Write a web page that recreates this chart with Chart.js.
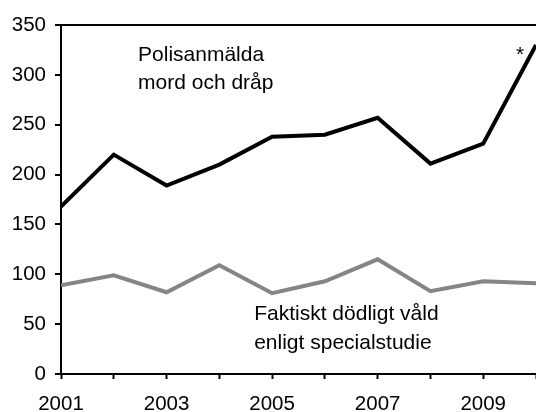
<!DOCTYPE html>
<html>
<head>
<meta charset="utf-8">
<script src="https://cdn.jsdelivr.net/npm/chart.js@4"></script>
<style>
  html, body { margin: 0; padding: 0; background: #fff; }
  #wrap { width: 536px; height: 412px; }
</style>
</head>
<body>
<div id="wrap"><canvas id="grafico"></canvas></div>
<script>
// data
const years = [2001, 2002, 2003, 2004, 2005, 2006, 2007, 2008, 2009, 2010];
const polisanmalda = [168, 220, 189, 210, 238, 240, 257, 211, 231, 330];
const faktiskt = [89, 99, 82, 109, 81, 93, 115, 83, 93, 91];
const yTicks = [0, 50, 100, 150, 200, 250, 300, 350];

// text labels placed in data coordinates
const notes = [
  { text: "Polisanmälda", x: 2002.46, y: 314 },
  { text: "mord och dråp", x: 2002.46, y: 286 },
  { text: "Faktiskt dödligt våld", x: 2004.66, y: 54 },
  { text: "enligt specialstudie", x: 2004.66, y: 25 },
  { text: "*", x: 2009.62, y: 314 }
];

const fontFam = "'Liberation Sans', Arial, sans-serif";

const notesPlugin = {
  id: "notes",
  afterDatasetsDraw(chart) {
    const c = chart.ctx;
    const sx = chart.scales.x, sy = chart.scales.y;
    c.save();
    c.fillStyle = "#000";
    c.font = "21px " + fontFam;
    c.textBaseline = "alphabetic";
    c.textAlign = "left";
    notes.forEach(n => {
      c.fillText(n.text, sx.getPixelForValue(n.x), sy.getPixelForValue(n.y));
    });
    c.restore();
  }
};

new Chart(document.getElementById("grafico"), {
  type: "line",
  data: {
    datasets: [
      {
        label: "Polisanmälda mord och dråp",
        data: years.map((y, i) => ({ x: y, y: polisanmalda[i] })),
        borderColor: "#000",
        borderWidth: 4,
        pointRadius: 0,
        tension: 0
      },
      {
        label: "Faktiskt dödligt våld enligt specialstudie",
        data: years.map((y, i) => ({ x: y, y: faktiskt[i] })),
        borderColor: "#858585",
        borderWidth: 4,
        pointRadius: 0,
        tension: 0
      }
    ]
  },
  options: {
    responsive: true,
    maintainAspectRatio: false,
    animation: false,
    layout: { autoPadding: false, padding: { top: 25, left: 0, right: 0, bottom: 0 } },
    plugins: {
      legend: { display: false },
      tooltip: { enabled: false }
    },
    scales: {
      x: {
        type: "linear",
        min: 2001,
        max: 2010,
        afterFit: s => {
          s.height = 38;
          s.paddingLeft = 0;
          s.paddingRight = 0;
        },
        ticks: {
          stepSize: 1,
          autoSkip: false,
          maxRotation: 0,
          padding: 15,
          color: "#000",
          font: { family: fontFam, size: 20.5, lineHeight: 1 },
          callback: v => (v % 2 === 1 ? String(v) : "")
        },
        grid: {
          drawOnChartArea: false,
          drawTicks: true,
          tickLength: 5,
          tickColor: "#000",
          tickWidth: 2
        },
        border: { display: true, color: "#000", width: 2 }
      },
      y: {
        min: 0,
        max: 350,
        afterBuildTicks: axis => {
          axis.ticks = yTicks.map(v => ({ value: v }));
        },
        afterFit: s => {
          s.width = 61;
          s.paddingTop = 0;
          s.paddingBottom = 0;
        },
        ticks: {
          padding: 9,
          color: "#000",
          font: { family: fontFam, size: 20.5 }
        },
        grid: {
          drawTicks: true,
          tickLength: 6,
          tickColor: "#000",
          tickWidth: 2,
          lineWidth: 2,
          color: ctx => (ctx.tick && ctx.tick.value === 350 ? "#000" : "rgba(0,0,0,0)")
        },
        border: { display: true, color: "#000", width: 2 }
      }
    }
  },
  plugins: [notesPlugin]
});
</script>
</body>
</html>
